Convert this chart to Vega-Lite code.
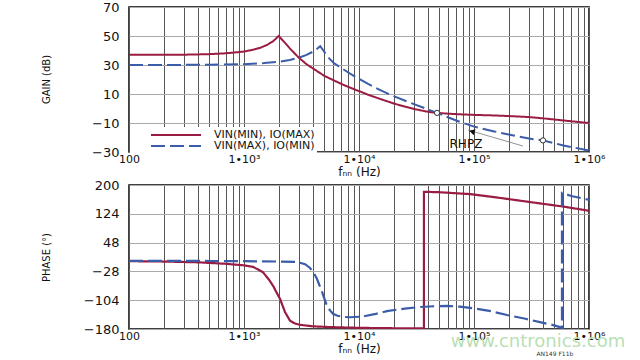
{
  "$schema": "https://vega.github.io/schema/vega-lite/v6.json",
  "background": "white",
  "padding": {"left": 40, "top": 0, "right": 5, "bottom": 0},
  "spacing": 0,
  "config": {
    "font": "DejaVu Sans",
    "view": {"stroke": "black", "strokeWidth": 1.5},
    "axis": {"labelColor": "#111", "titleColor": "#111", "labelFontSize": 13, "titleFontWeight": "normal"}
  },
  "datasets": {
    "gain": [
      {"series": "VIN(MIN), IO(MAX)", "i": 1, "f": 100, "gain": 37},
      {"series": "VIN(MIN), IO(MAX)", "i": 2, "f": 150, "gain": 37},
      {"series": "VIN(MIN), IO(MAX)", "i": 3, "f": 200, "gain": 37},
      {"series": "VIN(MIN), IO(MAX)", "i": 4, "f": 300, "gain": 37.1},
      {"series": "VIN(MIN), IO(MAX)", "i": 5, "f": 400, "gain": 37.3},
      {"series": "VIN(MIN), IO(MAX)", "i": 6, "f": 500, "gain": 37.5},
      {"series": "VIN(MIN), IO(MAX)", "i": 7, "f": 600, "gain": 37.8},
      {"series": "VIN(MIN), IO(MAX)", "i": 8, "f": 700, "gain": 38.1},
      {"series": "VIN(MIN), IO(MAX)", "i": 9, "f": 800, "gain": 38.5},
      {"series": "VIN(MIN), IO(MAX)", "i": 10, "f": 1000, "gain": 39.3},
      {"series": "VIN(MIN), IO(MAX)", "i": 11, "f": 1200, "gain": 40.5},
      {"series": "VIN(MIN), IO(MAX)", "i": 12, "f": 1400, "gain": 42},
      {"series": "VIN(MIN), IO(MAX)", "i": 13, "f": 1600, "gain": 44},
      {"series": "VIN(MIN), IO(MAX)", "i": 14, "f": 1800, "gain": 46.5},
      {"series": "VIN(MIN), IO(MAX)", "i": 15, "f": 2000, "gain": 50},
      {"series": "VIN(MIN), IO(MAX)", "i": 16, "f": 2200, "gain": 46.5},
      {"series": "VIN(MIN), IO(MAX)", "i": 17, "f": 2500, "gain": 41.5},
      {"series": "VIN(MIN), IO(MAX)", "i": 18, "f": 3000, "gain": 35},
      {"series": "VIN(MIN), IO(MAX)", "i": 19, "f": 3500, "gain": 30.5},
      {"series": "VIN(MIN), IO(MAX)", "i": 20, "f": 4000, "gain": 27.5},
      {"series": "VIN(MIN), IO(MAX)", "i": 21, "f": 5000, "gain": 22.5},
      {"series": "VIN(MIN), IO(MAX)", "i": 22, "f": 6000, "gain": 19.5},
      {"series": "VIN(MIN), IO(MAX)", "i": 23, "f": 7000, "gain": 17},
      {"series": "VIN(MIN), IO(MAX)", "i": 24, "f": 8000, "gain": 15},
      {"series": "VIN(MIN), IO(MAX)", "i": 25, "f": 10000, "gain": 12},
      {"series": "VIN(MIN), IO(MAX)", "i": 26, "f": 12000, "gain": 9.5},
      {"series": "VIN(MIN), IO(MAX)", "i": 27, "f": 15000, "gain": 6.8},
      {"series": "VIN(MIN), IO(MAX)", "i": 28, "f": 20000, "gain": 3.5},
      {"series": "VIN(MIN), IO(MAX)", "i": 29, "f": 25000, "gain": 1.3},
      {"series": "VIN(MIN), IO(MAX)", "i": 30, "f": 30000, "gain": -0.3},
      {"series": "VIN(MIN), IO(MAX)", "i": 31, "f": 40000, "gain": -2.3},
      {"series": "VIN(MIN), IO(MAX)", "i": 32, "f": 47700, "gain": -3},
      {"series": "VIN(MIN), IO(MAX)", "i": 33, "f": 60000, "gain": -3.6},
      {"series": "VIN(MIN), IO(MAX)", "i": 34, "f": 80000, "gain": -4.1},
      {"series": "VIN(MIN), IO(MAX)", "i": 35, "f": 100000, "gain": -4.4},
      {"series": "VIN(MIN), IO(MAX)", "i": 36, "f": 150000, "gain": -4.8},
      {"series": "VIN(MIN), IO(MAX)", "i": 37, "f": 200000, "gain": -5.2},
      {"series": "VIN(MIN), IO(MAX)", "i": 38, "f": 300000, "gain": -5.9},
      {"series": "VIN(MIN), IO(MAX)", "i": 39, "f": 400000, "gain": -6.8},
      {"series": "VIN(MIN), IO(MAX)", "i": 40, "f": 500000, "gain": -7.6},
      {"series": "VIN(MIN), IO(MAX)", "i": 41, "f": 700000, "gain": -8.8},
      {"series": "VIN(MIN), IO(MAX)", "i": 42, "f": 1000000, "gain": -10},
      {"series": "VIN(MAX), IO(MIN)", "i": 1, "f": 100, "gain": 30},
      {"series": "VIN(MAX), IO(MIN)", "i": 2, "f": 200, "gain": 30},
      {"series": "VIN(MAX), IO(MIN)", "i": 3, "f": 500, "gain": 30.2},
      {"series": "VIN(MAX), IO(MIN)", "i": 4, "f": 1000, "gain": 30.6},
      {"series": "VIN(MAX), IO(MIN)", "i": 5, "f": 1500, "gain": 31.3},
      {"series": "VIN(MAX), IO(MIN)", "i": 6, "f": 2000, "gain": 32.2},
      {"series": "VIN(MAX), IO(MIN)", "i": 7, "f": 2500, "gain": 33.5},
      {"series": "VIN(MAX), IO(MIN)", "i": 8, "f": 3000, "gain": 35},
      {"series": "VIN(MAX), IO(MIN)", "i": 9, "f": 3500, "gain": 37},
      {"series": "VIN(MAX), IO(MIN)", "i": 10, "f": 4000, "gain": 39.3},
      {"series": "VIN(MAX), IO(MIN)", "i": 11, "f": 4300, "gain": 41},
      {"series": "VIN(MAX), IO(MIN)", "i": 12, "f": 4600, "gain": 43},
      {"series": "VIN(MAX), IO(MIN)", "i": 13, "f": 4900, "gain": 40},
      {"series": "VIN(MAX), IO(MIN)", "i": 14, "f": 5300, "gain": 36},
      {"series": "VIN(MAX), IO(MIN)", "i": 15, "f": 6000, "gain": 31.5},
      {"series": "VIN(MAX), IO(MIN)", "i": 16, "f": 7000, "gain": 28},
      {"series": "VIN(MAX), IO(MIN)", "i": 17, "f": 8000, "gain": 25},
      {"series": "VIN(MAX), IO(MIN)", "i": 18, "f": 9000, "gain": 22.5},
      {"series": "VIN(MAX), IO(MIN)", "i": 19, "f": 10000, "gain": 20.5},
      {"series": "VIN(MAX), IO(MIN)", "i": 20, "f": 12000, "gain": 17},
      {"series": "VIN(MAX), IO(MIN)", "i": 21, "f": 15000, "gain": 13},
      {"series": "VIN(MAX), IO(MIN)", "i": 22, "f": 20000, "gain": 8.5},
      {"series": "VIN(MAX), IO(MIN)", "i": 23, "f": 30000, "gain": 3},
      {"series": "VIN(MAX), IO(MIN)", "i": 24, "f": 47700, "gain": -3},
      {"series": "VIN(MAX), IO(MIN)", "i": 25, "f": 70000, "gain": -8.3},
      {"series": "VIN(MAX), IO(MIN)", "i": 26, "f": 100000, "gain": -12.5},
      {"series": "VIN(MAX), IO(MIN)", "i": 27, "f": 150000, "gain": -15.8},
      {"series": "VIN(MAX), IO(MIN)", "i": 28, "f": 200000, "gain": -18},
      {"series": "VIN(MAX), IO(MIN)", "i": 29, "f": 300000, "gain": -20.7},
      {"series": "VIN(MAX), IO(MIN)", "i": 30, "f": 398000, "gain": -22},
      {"series": "VIN(MAX), IO(MIN)", "i": 31, "f": 600000, "gain": -25.5},
      {"series": "VIN(MAX), IO(MIN)", "i": 32, "f": 1000000, "gain": -29}
    ],
    "phase": [
      {"series": "VIN(MIN), IO(MAX)", "i": 1, "f": 100, "phase": -1},
      {"series": "VIN(MIN), IO(MAX)", "i": 2, "f": 200, "phase": -2},
      {"series": "VIN(MIN), IO(MAX)", "i": 3, "f": 400, "phase": -4},
      {"series": "VIN(MIN), IO(MAX)", "i": 4, "f": 700, "phase": -8},
      {"series": "VIN(MIN), IO(MAX)", "i": 5, "f": 1000, "phase": -12},
      {"series": "VIN(MIN), IO(MAX)", "i": 6, "f": 1200, "phase": -16},
      {"series": "VIN(MIN), IO(MAX)", "i": 7, "f": 1460, "phase": -30},
      {"series": "VIN(MIN), IO(MAX)", "i": 8, "f": 1650, "phase": -50},
      {"series": "VIN(MIN), IO(MAX)", "i": 9, "f": 1790, "phase": -66},
      {"series": "VIN(MIN), IO(MAX)", "i": 10, "f": 1930, "phase": -85},
      {"series": "VIN(MIN), IO(MAX)", "i": 11, "f": 2060, "phase": -101},
      {"series": "VIN(MIN), IO(MAX)", "i": 12, "f": 2270, "phase": -135},
      {"series": "VIN(MIN), IO(MAX)", "i": 13, "f": 2510, "phase": -158},
      {"series": "VIN(MIN), IO(MAX)", "i": 14, "f": 2800, "phase": -166},
      {"series": "VIN(MIN), IO(MAX)", "i": 15, "f": 3070, "phase": -169},
      {"series": "VIN(MIN), IO(MAX)", "i": 16, "f": 4000, "phase": -173},
      {"series": "VIN(MIN), IO(MAX)", "i": 17, "f": 5600, "phase": -175},
      {"series": "VIN(MIN), IO(MAX)", "i": 18, "f": 10000, "phase": -177},
      {"series": "VIN(MIN), IO(MAX)", "i": 19, "f": 20000, "phase": -178},
      {"series": "VIN(MIN), IO(MAX)", "i": 20, "f": 36700, "phase": -178.5},
      {"series": "VIN(MIN), IO(MAX)", "i": 21, "f": 36700, "phase": 182},
      {"series": "VIN(MIN), IO(MAX)", "i": 22, "f": 50000, "phase": 181},
      {"series": "VIN(MIN), IO(MAX)", "i": 23, "f": 92200, "phase": 176},
      {"series": "VIN(MIN), IO(MAX)", "i": 24, "f": 150000, "phase": 168},
      {"series": "VIN(MIN), IO(MAX)", "i": 25, "f": 307000, "phase": 155},
      {"series": "VIN(MIN), IO(MAX)", "i": 26, "f": 600000, "phase": 143},
      {"series": "VIN(MIN), IO(MAX)", "i": 27, "f": 1000000, "phase": 132},
      {"series": "VIN(MAX), IO(MIN)", "i": 1, "f": 100, "phase": 0},
      {"series": "VIN(MAX), IO(MIN)", "i": 2, "f": 500, "phase": -0.5},
      {"series": "VIN(MAX), IO(MIN)", "i": 3, "f": 1000, "phase": -1},
      {"series": "VIN(MAX), IO(MIN)", "i": 4, "f": 2000, "phase": -2},
      {"series": "VIN(MAX), IO(MIN)", "i": 5, "f": 2890, "phase": -3},
      {"series": "VIN(MAX), IO(MIN)", "i": 6, "f": 3400, "phase": -9},
      {"series": "VIN(MAX), IO(MIN)", "i": 7, "f": 3750, "phase": -19},
      {"series": "VIN(MAX), IO(MIN)", "i": 8, "f": 4050, "phase": -32},
      {"series": "VIN(MAX), IO(MIN)", "i": 9, "f": 4315, "phase": -48},
      {"series": "VIN(MAX), IO(MIN)", "i": 10, "f": 4550, "phase": -66},
      {"series": "VIN(MAX), IO(MIN)", "i": 11, "f": 4770, "phase": -82},
      {"series": "VIN(MAX), IO(MIN)", "i": 12, "f": 5000, "phase": -100},
      {"series": "VIN(MAX), IO(MIN)", "i": 13, "f": 5270, "phase": -119},
      {"series": "VIN(MAX), IO(MIN)", "i": 14, "f": 5600, "phase": -131},
      {"series": "VIN(MAX), IO(MIN)", "i": 15, "f": 5940, "phase": -140},
      {"series": "VIN(MAX), IO(MIN)", "i": 16, "f": 6500, "phase": -145},
      {"series": "VIN(MAX), IO(MIN)", "i": 17, "f": 7260, "phase": -148},
      {"series": "VIN(MAX), IO(MIN)", "i": 18, "f": 8360, "phase": -149},
      {"series": "VIN(MAX), IO(MIN)", "i": 19, "f": 10840, "phase": -147},
      {"series": "VIN(MAX), IO(MIN)", "i": 20, "f": 14000, "phase": -140},
      {"series": "VIN(MAX), IO(MIN)", "i": 21, "f": 17500, "phase": -133},
      {"series": "VIN(MAX), IO(MIN)", "i": 22, "f": 25000, "phase": -126},
      {"series": "VIN(MAX), IO(MIN)", "i": 23, "f": 33900, "phase": -122},
      {"series": "VIN(MAX), IO(MIN)", "i": 24, "f": 45000, "phase": -120},
      {"series": "VIN(MAX), IO(MIN)", "i": 25, "f": 58200, "phase": -119},
      {"series": "VIN(MAX), IO(MIN)", "i": 26, "f": 75000, "phase": -121},
      {"series": "VIN(MAX), IO(MIN)", "i": 27, "f": 98000, "phase": -125},
      {"series": "VIN(MAX), IO(MIN)", "i": 28, "f": 140000, "phase": -133},
      {"series": "VIN(MAX), IO(MIN)", "i": 29, "f": 193600, "phase": -143},
      {"series": "VIN(MAX), IO(MIN)", "i": 30, "f": 280000, "phase": -153},
      {"series": "VIN(MAX), IO(MIN)", "i": 31, "f": 375000, "phase": -162},
      {"series": "VIN(MAX), IO(MIN)", "i": 32, "f": 480000, "phase": -169},
      {"series": "VIN(MAX), IO(MIN)", "i": 33, "f": 560000, "phase": -175},
      {"series": "VIN(MAX), IO(MIN)", "i": 34, "f": 582000, "phase": -178},
      {"series": "VIN(MAX), IO(MIN)", "i": 35, "f": 582000, "phase": 179},
      {"series": "VIN(MAX), IO(MIN)", "i": 36, "f": 700000, "phase": 171},
      {"series": "VIN(MAX), IO(MIN)", "i": 37, "f": 1000000, "phase": 161}
    ],
    "markers": [
      {"f": 47700, "gain": -3},
      {"f": 398000, "gain": -22}
    ],
    "rhpz": [
      {"label": "RHPZ", "f": 85100, "gain": -24.8}
    ],
    "arrow": [
      {"f": 88700, "gain": -14.8, "f2": 266700, "gain2": -25.9}
    ],
    "arrowhead": [
      {"f": 96000, "gain": -15.9}
    ],
    "notes": [
      {"label": "www.cntronics.com", "f": 360000, "phase": -215, "kind": "mark"},
      {"label": "AN149 F11b", "f": 505000, "phase": -246, "kind": "code"}
    ]
  },
  "vconcat": [
    {
      "width": 460,
      "height": 145,
      "layer": [
        {
          "data": {"name": "gain"},
          "mark": {"type": "line", "strokeWidth": 2, "clip": true},
          "encoding": {
            "x": {"field": "f", "type": "quantitative", "title": "fₙₙ (Hz)",
              "scale": {"type": "log", "domain": [100, 1000000], "nice": false},
              "axis": {"values": [100,200,300,400,500,600,700,800,900,1000,2000,3000,4000,5000,6000,7000,8000,9000,10000,20000,30000,40000,50000,60000,70000,80000,90000,100000,200000,300000,400000,500000,600000,700000,800000,900000,1000000],
                "tickCount": 100,
                "labelExpr": "datum.value == 100 ? '100' : datum.value == 1000 ? '1•10³' : datum.value == 10000 ? '1•10⁴' : datum.value == 100000 ? '1•10⁵' : datum.value == 1000000 ? '1•10⁶' : ''",
                "grid": true, "gridColor": "#555", "gridWidth": 1, "ticks": false, "domain": false,
                "labelFlush": false, "labelOverlap": false, "labelBound": false, "labelPadding": 1, "labelFontSize": 11,
                "titleFontSize": 12, "titlePadding": 2}},
            "y": {"field": "gain", "type": "quantitative", "title": "GAIN (dB)",
              "scale": {"domain": [-30, 70], "nice": false, "zero": false},
              "axis": {"values": [-30, -10, 10, 30, 50, 70], "tickCount": 20, "grid": true, "gridColor": "#aaa", "ticks": false, "domain": false,
                "labelOverlap": false, "labelFlush": false, "labelBound": false,
                "labelPadding": 10, "titleFontSize": 10, "titleX": -78, "titleY": 72, "titleAlign": "center", "titleAngle": -90}},
            "color": {"field": "series", "type": "nominal", "title": null,
              "scale": {"domain": ["VIN(MIN), IO(MAX)", "VIN(MAX), IO(MIN)"], "range": ["#9b1c42", "#3b5ca8"]},
              "legend": {"orient": "none", "legendX": 1, "legendY": 120, "fillColor": "white", "padding": 2, "rowPadding": 0,
                "symbolType": "M-5,0H5", "symbolSize": 100, "symbolOffset": 38, "symbolStrokeWidth": 2,
                "labelFontSize": 11, "labelColor": "#111", "labelOffset": 32}},
            "strokeDash": {"field": "series", "type": "nominal", "title": null,
              "scale": {"domain": ["VIN(MIN), IO(MAX)", "VIN(MAX), IO(MIN)"], "range": [[1, 0], [14, 5]]},
              "legend": {"orient": "none", "legendX": 1, "legendY": 120, "fillColor": "white", "padding": 2, "rowPadding": 0,
                "symbolType": "M-5,0H5", "symbolSize": 100, "symbolOffset": 38, "symbolStrokeWidth": 2,
                "labelFontSize": 11, "labelColor": "#111", "labelOffset": 32}},
            "order": {"field": "i", "type": "quantitative"}
          }
        },
        {
          "data": {"name": "arrow"},
          "mark": {"type": "rule", "color": "#777", "strokeWidth": 0.8},
          "encoding": {
            "x": {"field": "f", "type": "quantitative", "title": "fₙₙ (Hz)"},
            "x2": {"field": "f2"},
            "y": {"field": "gain", "type": "quantitative", "title": "GAIN (dB)"},
            "y2": {"field": "gain2"}
          }
        },
        {
          "data": {"name": "arrowhead"},
          "mark": {"type": "point", "shape": "triangle-left", "filled": true, "color": "#111", "size": 40, "angle": 16, "opacity": 1},
          "encoding": {
            "x": {"field": "f", "type": "quantitative", "title": "fₙₙ (Hz)"},
            "y": {"field": "gain", "type": "quantitative", "title": "GAIN (dB)"}
          }
        },
        {
          "data": {"name": "markers"},
          "mark": {"type": "point", "shape": "circle", "filled": true, "fill": "white", "stroke": "#333", "strokeWidth": 1, "size": 28, "opacity": 1},
          "encoding": {
            "x": {"field": "f", "type": "quantitative", "title": "fₙₙ (Hz)"},
            "y": {"field": "gain", "type": "quantitative", "title": "GAIN (dB)"}
          }
        },
        {
          "data": {"name": "rhpz"},
          "mark": {"type": "text", "fontSize": 12, "color": "#111", "font": "DejaVu Sans"},
          "encoding": {
            "x": {"field": "f", "type": "quantitative", "title": "fₙₙ (Hz)"},
            "y": {"field": "gain", "type": "quantitative", "title": "GAIN (dB)"},
            "text": {"field": "label"}
          }
        }
      ]
    },
    {
      "width": 460,
      "height": 144,
      "layer": [
        {
          "data": {"name": "phase"},
          "mark": {"type": "line", "strokeWidth": 2.2, "clip": true},
          "encoding": {
            "x": {"field": "f", "type": "quantitative", "title": "fₙₙ (Hz)",
              "scale": {"type": "log", "domain": [100, 1000000], "nice": false},
              "axis": {"values": [100,200,300,400,500,600,700,800,900,1000,2000,3000,4000,5000,6000,7000,8000,9000,10000,20000,30000,40000,50000,60000,70000,80000,90000,100000,200000,300000,400000,500000,600000,700000,800000,900000,1000000],
                "tickCount": 100,
                "labelExpr": "datum.value == 100 ? '100' : datum.value == 1000 ? '1•10³' : datum.value == 10000 ? '1•10⁴' : datum.value == 100000 ? '1•10⁵' : datum.value == 1000000 ? '1•10⁶' : ''",
                "grid": true, "gridColor": "#555", "gridWidth": 1, "ticks": false, "domain": false,
                "labelFlush": false, "labelOverlap": false, "labelBound": false, "labelPadding": 1, "labelFontSize": 11,
                "titleFontSize": 12, "titlePadding": 2}},
            "y": {"field": "phase", "type": "quantitative", "title": "PHASE (°)",
              "scale": {"domain": [-180, 200], "nice": false, "zero": false},
              "axis": {"values": [-180, -104, -28, 48, 124, 200], "tickCount": 20, "grid": true, "gridColor": "#aaa", "ticks": false, "domain": false,
                "labelOverlap": false, "labelFlush": false, "labelBound": false,
                "labelPadding": 10, "titleFontSize": 10, "titleX": -78, "titleY": 72, "titleAlign": "center", "titleAngle": -90}},
            "color": {"field": "series", "type": "nominal", "legend": null,
              "scale": {"domain": ["VIN(MIN), IO(MAX)", "VIN(MAX), IO(MIN)"], "range": ["#9b1c42", "#3b5ca8"]}},
            "strokeDash": {"field": "series", "type": "nominal", "legend": null,
              "scale": {"domain": ["VIN(MIN), IO(MAX)", "VIN(MAX), IO(MIN)"], "range": [[1, 0], [14, 5]]}},
            "order": {"field": "i", "type": "quantitative"}
          }
        },
        {
          "data": {"name": "notes"},
          "mark": {"type": "text", "font": "DejaVu Sans"},
          "encoding": {
            "x": {"field": "f", "type": "quantitative", "title": "fₙₙ (Hz)"},
            "y": {"field": "phase", "type": "quantitative", "title": "PHASE (°)"},
            "text": {"field": "label"},
            "size": {"field": "kind", "type": "nominal", "scale": {"domain": ["mark", "code"], "range": [18, 6]}, "legend": null},
            "color": {"field": "kind", "type": "nominal", "scale": {"domain": ["mark", "code"], "range": ["#b9dfb4", "#333333"]}, "legend": null}
          }
        }
      ],
      "resolve": {"scale": {"color": "independent", "size": "independent"}}
    }
  ],
  "resolve": {"scale": {"color": "independent", "strokeDash": "independent"}}
}
